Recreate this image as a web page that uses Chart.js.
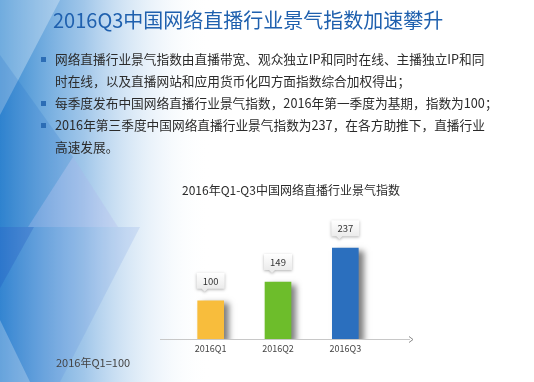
<!DOCTYPE html>
<html>
<head>
<meta charset="utf-8">
<script src="https://cdn.jsdelivr.net/npm/chart.js@4/dist/chart.umd.min.js"></script>
<style>
  html, body { margin: 0; padding: 0; }
  body { width: 534px; height: 382px; position: relative; overflow: hidden; background: #fff;
         font-family: "Noto Sans CJK SC", "Noto Sans", sans-serif; }
  canvas { position: absolute; left: 0; top: 0; }
  .heading { position: absolute; left: 53px; top: 8px; font-size: 20px; line-height: 24px; color: #1f60ae; white-space: nowrap; }
  .points { position: absolute; left: 41px; top: 48px; margin: 0; padding: 0; list-style: none;
            font-size: 12.7px; line-height: 22px; color: #2b2b2b; white-space: nowrap; }
  .points li { position: relative; padding-left: 14px; }
  .points li::before { content: ""; position: absolute; left: 0; top: 9px; width: 5px; height: 5px; background: #2c6db5; }
  .chart-title { position: absolute; left: 182px; top: 182px; font-size: 12px; line-height: 16px; color: #2a2a2a; white-space: nowrap; }
  .note { position: absolute; left: 56px; top: 355px; font-size: 11px; line-height: 14px; color: #444; white-space: nowrap; }
</style>
</head>
<body>
<canvas id="backdrop" width="534" height="382"></canvas>
<canvas id="indexChart" width="534" height="382"></canvas>
<div class="heading">2016Q3中国网络直播行业景气指数加速攀升</div>
<ul class="points">
  <li>网络直播行业景气指数由直播带宽、观众独立IP和同时在线、主播独立IP和同<br>时在线，以及直播网站和应用货币化四方面指数综合加权得出；</li>
  <li>每季度发布中国网络直播行业景气指数，2016年第一季度为基期，指数为100；</li>
  <li>2016年第三季度中国网络直播行业景气指数为237，在各方助推下，直播行业<br>高速发展。</li>
</ul>
<div class="chart-title">2016年Q1-Q3中国网络直播行业景气指数</div>
<div class="note">2016年Q1=100</div>
<script>
// quarterly index, Q1 2016 = 100
const quarters = ['2016Q1', '2016Q2', '2016Q3'];
const indexValues = [100, 149, 237];
const barColors = ['#f8bd3c', '#6dbd2b', '#2b6fbe'];

// blue faceted wash on the left side
function paintBackdrop() {
  const g = document.getElementById('backdrop').getContext('2d');
  g.fillStyle = '#fff';
  g.fillRect(0, 0, 534, 382);
  const wash = g.createLinearGradient(0, 0, 210, 0);
  wash.addColorStop(0, 'rgba(40,130,206,0.95)');
  wash.addColorStop(0.4, 'rgba(110,168,222,0.65)');
  wash.addColorStop(1, 'rgba(255,255,255,0)');
  g.fillStyle = wash;
  g.fillRect(0, 0, 210, 382);

  const facet = (pts, color) => {
    g.beginPath();
    g.moveTo(pts[0][0], pts[0][1]);
    pts.slice(1).forEach(p => g.lineTo(p[0], p[1]));
    g.closePath();
    g.fillStyle = color;
    g.fill();
  };
  facet([[0, 0], [60, 0], [0, 115]], 'rgba(255,255,255,0.3)');
  facet([[0, 55], [73, 157], [28, 227], [0, 227]], 'rgba(30,105,200,0.18)');
  facet([[73, 157], [28, 227], [118, 227]], 'rgba(170,175,235,0.25)');
  facet([[0, 227], [34, 227], [0, 288]], 'rgba(35,85,195,0.35)');
  facet([[34, 227], [140, 227], [60, 382], [0, 382], [0, 288]], 'rgba(60,110,210,0.12)');
  facet([[0, 320], [30, 382], [0, 382]], 'rgba(255,255,255,0.25)');
}
paintBackdrop();

// soft shadow on the right of each bar
const barShadow = {
  id: 'barShadow',
  beforeDatasetsDraw(chart) {
    const ctx = chart.ctx;
    ctx.save();
    ctx.shadowColor = 'rgba(0,0,0,0.5)';
    ctx.shadowBlur = 6;
    ctx.shadowOffsetX = 5;
    ctx.shadowOffsetY = 3;
  },
  afterDatasetsDraw(chart) {
    chart.ctx.restore();
  }
};

// baseline with arrow head, plus value callouts above the bars
const baseline = {
  id: 'baseline',
  afterDatasetsDraw(chart) {
    const ctx = chart.ctx;
    const y = Math.round(chart.chartArea.bottom) + 0.5;
    ctx.save();
    ctx.strokeStyle = '#c8c8c8';
    ctx.lineWidth = 1;
    ctx.beginPath();
    ctx.moveTo(160, y);
    ctx.lineTo(410, y);
    ctx.stroke();
    ctx.strokeStyle = '#8a8a8a';
    ctx.beginPath();
    ctx.moveTo(409, y - 3);
    ctx.lineTo(413, y);
    ctx.lineTo(409, y + 3);
    ctx.stroke();

    const meta = chart.getDatasetMeta(0);
    meta.data.forEach((bar, i) => {
      const w = 28, h = 16;
      const left = bar.x - 14;
      const bottom = bar.y - 12;
      const top = bottom - h;
      ctx.save();
      ctx.shadowColor = 'rgba(0,0,0,0.3)';
      ctx.shadowBlur = 3;
      ctx.shadowOffsetY = 1;
      const fill = ctx.createLinearGradient(0, top, 0, bottom);
      fill.addColorStop(0, '#ffffff');
      fill.addColorStop(1, '#ebebeb');
      ctx.fillStyle = fill;
      ctx.beginPath();
      ctx.moveTo(left, top);
      ctx.lineTo(left + w, top);
      ctx.lineTo(left + w, bottom);
      ctx.lineTo(left + 11, bottom);
      ctx.lineTo(left + 8, bottom + 3);
      ctx.lineTo(left + 5, bottom);
      ctx.lineTo(left, bottom);
      ctx.closePath();
      ctx.fill();
      ctx.restore();
      ctx.fillStyle = '#333';
      ctx.font = '9.5px "Noto Sans CJK SC", sans-serif';
      ctx.textAlign = 'center';
      ctx.textBaseline = 'middle';
      ctx.fillText(String(chart.data.datasets[0].data[i]), left + w / 2, top + h / 2 + 0.5);
    });
    ctx.restore();
  }
};

new Chart(document.getElementById('indexChart'), {
  type: 'bar',
  data: {
    labels: quarters,
    datasets: [{
      data: indexValues,
      backgroundColor: barColors,
      barThickness: 26
    }]
  },
  options: {
    responsive: false,
    animation: false,
    layout: { padding: { left: 177, right: 155, top: 224, bottom: 24 } },
    plugins: { legend: { display: false }, tooltip: { enabled: false } },
    scales: {
      x: {
        grid: { display: false, drawTicks: false },
        border: { display: false },
        ticks: { color: '#444', padding: 4, font: { size: 9, family: '"Noto Sans CJK SC", sans-serif' } }
      },
      y: { display: false, min: 0, max: 300 }
    }
  },
  plugins: [barShadow, baseline]
});
</script>
</body>
</html>
